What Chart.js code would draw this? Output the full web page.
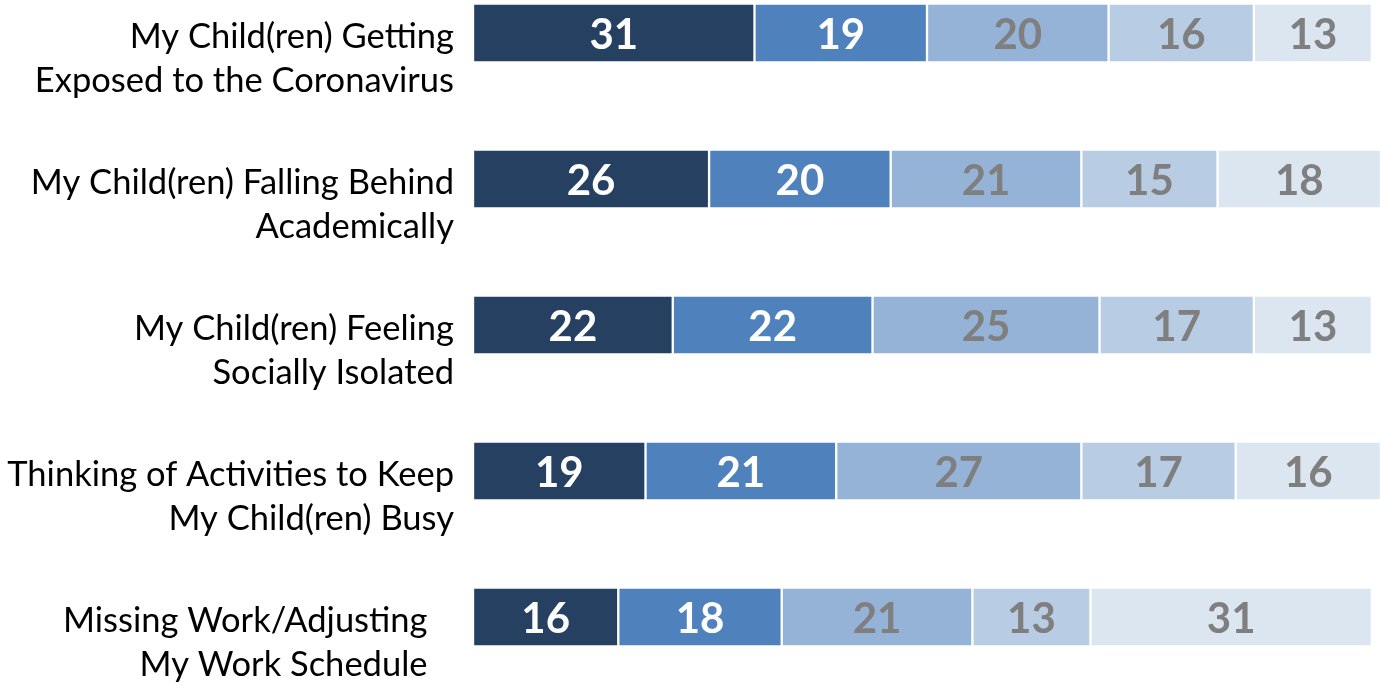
<!DOCTYPE html>
<html lang="en">
<head>
    <meta charset="UTF-8">
    <title>Child care concerns</title>
    <script src="https://cdn.jsdelivr.net/npm/chart.js"></script>
    <style>
        html, body {
            margin: 0;
            padding: 0;
            background: #ffffff;
        }
        #wrap {
            width: 1384px;
            height: 685px;
        }
    </style>
</head>
<body>
    <div id="wrap">
        <canvas id="barChart"></canvas>
    </div>
    <script>
        // categories (two-line labels, last one has trailing spaces like the original)
        const categories = [
            ["My Child(ren) Getting", "Exposed to the Coronavirus"],
            ["My Child(ren) Falling Behind", "Academically"],
            ["My Child(ren) Feeling", "Socially Isolated"],
            ["Thinking of Activities to Keep", "My Child(ren) Busy"],
            ["Missing Work/Adjusting   ", "My Work Schedule   "]
        ];

        // one array per segment, left to right
        const seg1 = [31, 26, 22, 19, 16];
        const seg2 = [19, 20, 22, 21, 18];
        const seg3 = [20, 21, 25, 27, 21];
        const seg4 = [16, 15, 17, 17, 13];
        const seg5 = [13, 18, 13, 16, 31];

        const colors = ['#264061', '#4f81bd', '#95b3d7', '#b8cce4', '#dce6f1'];
        const labelColors = ['#ffffff', '#ffffff', '#7f7f7f', '#7f7f7f', '#7f7f7f'];

        const valueLabels = {
            id: 'valueLabels',
            afterDatasetsDraw(chart) {
                const ctx = chart.ctx;
                ctx.save();
                ctx.font = 'bold 42px Lato';
                ctx.textAlign = 'center';
                ctx.textBaseline = 'middle';
                chart.data.datasets.forEach((ds, i) => {
                    const meta = chart.getDatasetMeta(i);
                    ctx.fillStyle = labelColors[i];
                    meta.data.forEach((bar, j) => {
                        const p = bar.getProps(['x', 'y', 'base'], true);
                        ctx.fillText(ds.data[j], (p.x + p.base) / 2, p.y + 2);
                    });
                });
                ctx.restore();
            }
        };

        const ctx = document.getElementById('barChart').getContext('2d');
        new Chart(ctx, {
            type: 'bar',
            data: {
                labels: categories,
                datasets: [seg1, seg2, seg3, seg4, seg5].map((d, i) => ({
                    data: d,
                    backgroundColor: colors[i],
                    borderColor: '#ffffff',
                    borderWidth: 1.5,
                    borderSkipped: false,
                    barThickness: 59,
                    clip: false
                }))
            },
            options: {
                indexAxis: 'y',
                responsive: true,
                maintainAspectRatio: false,
                animation: false,
                layout: { padding: { top: 33, bottom: 68, right: 3, left: 0 } },
                plugins: {
                    legend: { display: false },
                    tooltip: { enabled: false }
                },
                scales: {
                    x: {
                        display: false,
                        stacked: true,
                        min: 0,
                        max: 100
                    },
                    y: {
                        stacked: true,
                        offset: false,
                        grid: { display: false, drawTicks: false },
                        border: { display: false },
                        ticks: {
                            color: '#000000',
                            font: { family: 'Lato', size: 34.5, lineHeight: 1.26 },
                            padding: 19,
                            labelOffset: 26
                        },
                        afterFit(scale) {
                            scale.width = 473;
                            scale.paddingTop = 0;
                            scale.paddingBottom = 0;
                        }
                    }
                }
            },
            plugins: [valueLabels]
        });
    </script>
</body>
</html>
